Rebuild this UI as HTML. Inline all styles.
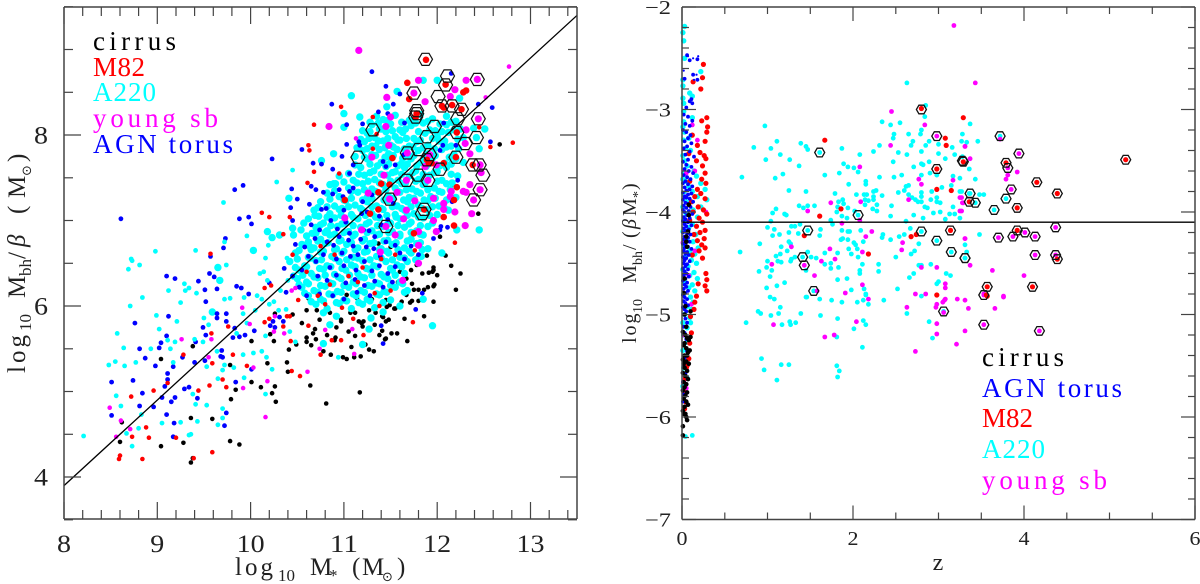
<!DOCTYPE html>
<html lang="en">
<head>
<meta charset="utf-8">
<title>Black hole mass versus stellar mass and redshift</title>
<style>
html,body{margin:0;padding:0;background:#fff;width:1200px;height:584px;overflow:hidden}
svg{display:block}
text{font-family:"Liberation Serif","DejaVu Serif",serif}
.sym{font-family:"DejaVu Sans","Liberation Serif",sans-serif}
</style>
</head>
<body>
<svg id="chart" xmlns="http://www.w3.org/2000/svg" width="1200" height="584" viewBox="0 0 1200 584">
<rect width="1200" height="584" fill="#fff"/>
<g id="left-marks"></g>
<g id="right-marks"></g>
<g id="axes"></g>

<g font-size="27">
<text x="93" y="50" fill="#000" textLength="83" lengthAdjust="spacing">cirrus</text>
<text x="93" y="76" fill="#f00" textLength="52" lengthAdjust="spacing">M82</text>
<text x="93" y="101" fill="#0ff" textLength="63" lengthAdjust="spacing">A220</text>
<text x="93" y="127" fill="#f0f" textLength="125" lengthAdjust="spacing">young sb</text>
<text x="93" y="153" fill="#00f" textLength="140" lengthAdjust="spacing">AGN torus</text>
</g>
<g font-size="27">
<text x="982" y="366" fill="#000" textLength="82" lengthAdjust="spacing">cirrus</text>
<text x="982" y="397" fill="#00f" textLength="140" lengthAdjust="spacing">AGN torus</text>
<text x="982" y="427" fill="#f00" textLength="51" lengthAdjust="spacing">M82</text>
<text x="982" y="458" fill="#0ff" textLength="63" lengthAdjust="spacing">A220</text>
<text x="982" y="489" fill="#f0f" textLength="125" lengthAdjust="spacing">young sb</text>
</g>

<text font-size="25" fill="#222" y="575"><tspan x="235" letter-spacing="3">log</tspan><tspan x="278" y="581" font-size="17">10</tspan><tspan x="310" y="575">M</tspan><tspan x="329" y="581" font-size="17">*</tspan><tspan x="352" y="575">(</tspan><tspan x="362" y="575">M</tspan><tspan class="sym" x="382" y="581" font-size="13">⊙</tspan><tspan x="397" y="575">)</tspan></text>

<text font-size="25" fill="#222" transform="translate(25,0) rotate(-90)" y="0"><tspan x="-373" letter-spacing="3">log</tspan><tspan x="-331" y="6" font-size="17">10</tspan><tspan x="-298" y="0">M</tspan><tspan x="-276" y="6" font-size="17">bh</tspan><tspan x="-259" y="0">/</tspan><tspan x="-247" y="0" font-style="italic">β</tspan><tspan x="-214" y="0">(</tspan><tspan x="-198" y="0">M</tspan><tspan class="sym" x="-176" y="6" font-size="13">⊙</tspan><tspan x="-162" y="0">)</tspan></text>

<text font-size="24" fill="#222" x="938" y="570" text-anchor="middle">z</text>

<text font-size="20" fill="#222" transform="translate(636,0) rotate(-90)" y="0"><tspan x="-343" letter-spacing="2">log</tspan><tspan x="-313" y="6" font-size="14">10</tspan><tspan x="-283" y="0">M</tspan><tspan x="-265" y="6" font-size="14">bh</tspan><tspan x="-250" y="0">/</tspan><tspan x="-238" y="0">(</tspan><tspan x="-229" y="0" font-style="italic">β</tspan><tspan x="-216" y="0">M</tspan><tspan x="-198" y="6" font-size="14">*</tspan><tspan x="-190" y="0">)</tspan></text>
</svg>

<script>
/* Left panel: [log10 M*, log10 Mbh/beta] */
const leftCirrus = [[8.62,4.64],[8.60,4.41],[9.04,5.38],[9.38,5.53],[9.36,4.69],[9.36,4.17],[9.04,4.36],[9.28,4.40],[9.38,4.22],[9.59,4.68],[9.78,4.42],[9.88,4.38],[9.79,4.91],[9.84,5.02],[9.78,5.31],[10.01,5.11],[10.11,5.05],[10.23,4.98],[10.27,4.88],[10.26,5.06],[10.18,5.33],[10.01,5.59],[10.25,5.59],[10.21,5.67],[10.26,5.91],[10.45,5.90],[10.49,5.55],[10.41,5.49],[10.39,5.34],[10.40,5.23],[12.15,6.47],[12.25,6.38],[12.20,6.19],[11.96,6.05],[11.86,5.88],[11.80,6.06],[11.73,6.06],[11.97,6.25],[11.96,6.23],[11.96,6.45],[11.96,6.42],[11.91,6.39],[11.95,6.40],[11.86,6.19],[11.80,6.19],[11.75,6.19],[11.73,6.26],[11.71,6.04],[11.68,5.59],[11.57,5.68],[11.51,5.68],[11.44,5.61],[11.45,5.62],[11.41,5.71],[11.48,5.84],[11.45,5.82],[11.41,5.88],[11.42,5.87],[11.34,5.92],[11.55,5.97],[11.49,6.01],[11.45,6.07],[11.20,5.76],[11.19,5.80],[11.16,5.82],[11.21,5.82],[11.07,5.92],[11.12,5.92],[10.97,5.84],[10.97,5.82],[11.12,5.65],[10.74,5.84],[10.67,5.68],[10.69,5.73],[10.70,5.61],[10.65,5.54],[10.60,5.58],[10.60,5.63],[10.78,5.47],[10.86,5.43],[10.90,5.60],[10.91,5.63],[10.99,5.40],[11.03,5.38],[11.11,5.40],[11.08,5.52],[11.18,5.41],[11.23,5.55],[11.27,5.49],[11.32,5.47],[10.64,5.07],[10.81,4.86],[11.17,4.99],[10.62,6.09],[10.71,5.95],[11.03,6.13],[11.14,6.09],[11.27,5.95],[11.46,5.99],[11.54,5.97],[11.67,6.13],[11.67,6.32],[12.67,7.89],[12.44,7.08],[12.16,7.42],[12.03,6.81],[12.09,6.59],[11.89,6.59],[11.79,6.57],[11.50,6.69],[11.37,6.73],[11.60,6.40],[11.58,6.28],[11.72,6.42],[11.84,6.38],[11.90,6.22],[11.62,6.05],[11.33,5.78],[11.38,5.66],[10.85,5.92],[10.92,5.75],[10.82,5.66],[10.55,5.80],[10.60,5.95],[11.05,5.70],[11.30,6.08],[11.78,6.48],[12.0,6.36],[11.65,5.85],[11.55,6.22]];
const leftAgnTorus = [[8.51,5.11],[8.51,4.72],[8.74,5.13],[8.76,5.80],[8.81,5.50],[8.87,5.39],[8.84,4.98],[8.81,4.83],[8.96,4.82],[8.98,5.30],[9.02,5.51],[9.04,5.57],[9.10,5.65],[9.12,5.88],[9.10,6.35],[9.19,6.32],[9.08,5.06],[9.11,5.14],[9.11,5.21],[9.17,5.29],[9.27,5.40],[9.05,4.93],[9.19,4.93],[9.15,4.88],[9.10,4.73],[9.18,4.63],[9.17,4.47],[9.29,5.03],[9.34,5.05],[9.43,4.92],[9.40,5.34],[9.41,5.58],[9.52,5.66],[9.49,5.75],[9.52,6.05],[9.44,6.29],[9.51,6.19],[9.56,6.38],[9.64,6.20],[9.61,6.34],[9.64,5.91],[9.64,5.86],[9.74,5.91],[9.74,5.82],[9.85,6.23],[9.90,6.21],[9.98,6.14],[9.83,5.74],[9.88,5.64],[9.81,5.63],[9.94,5.66],[10.04,5.71],[9.69,5.48],[9.68,5.41],[9.70,5.40],[9.51,5.36],[9.84,5.11],[9.74,4.75],[9.72,4.60],[10.01,5.26],[10.20,6.27],[10.36,6.44],[10.38,6.16],[10.21,5.77],[10.24,5.82],[10.26,5.75],[10.35,5.82],[10.31,5.87],[10.23,7.72],[9.92,7.41],[9.83,7.36],[8.61,7.02],[10.44,7.37],[10.50,7.25],[10.43,7.15],[9.88,7.02],[9.98,7.04],[10.01,6.96],[10.45,7.0],[9.73,6.79],[9.71,6.68],[9.57,6.58],[10.48,6.72],[11.30,8.74],[11.45,8.57],[10.87,8.36],[11.53,8.36],[11.60,8.48],[11.37,8.27],[11.47,8.25],[11.03,8.12],[11.20,8.13],[12.59,8.32],[12.44,8.36],[12.57,7.92],[12.15,8.72],[11.65,8.14],[12.07,8.14],[11.03,7.89],[11.16,7.92],[11.17,7.88],[10.98,7.75],[10.55,7.83],[10.67,7.67],[10.76,7.66],[10.88,7.60],[11.06,7.55],[11.10,7.65],[10.65,7.40],[10.70,7.36],[10.78,7.33],[10.88,7.31],[10.95,7.36],[10.63,7.19],[10.76,7.13],[10.81,7.14],[11.10,7.38],[11.06,7.34],[10.99,7.28],[11.42,7.69],[11.45,7.63],[11.55,7.65],[11.64,7.77],[10.58,6.69],[10.69,6.79],[10.74,6.89],[10.89,6.71],[10.95,6.81],[11.06,6.85],[10.98,6.62],[11.05,6.77],[11.21,6.89],[11.24,6.69],[11.33,6.81],[11.19,7.08],[12.04,6.93],[12.11,6.92],[11.96,6.79],[12.03,6.89],[11.55,6.71],[11.60,6.62],[11.32,6.67],[11.39,6.58],[11.47,7.01],[11.53,7.20],[12.06,7.88],[12.03,7.82],[12.20,7.88],[12.22,7.47],[12.16,7.22],[11.77,5.96],[11.40,5.77],[11.42,5.56],[11.84,6.15],[10.62,6.58],[10.70,6.52],[10.78,6.60],[10.85,6.45],[10.92,6.55],[11.0,6.47],[11.07,6.58],[11.13,6.42],[11.22,6.52],[11.3,6.41],[11.38,6.47],[11.47,6.38],[11.55,6.46],[10.72,6.35],[10.82,6.30],[10.92,6.36],[11.02,6.27],[11.12,6.31],[11.22,6.24],[11.33,6.29],[11.42,6.22],[11.52,6.28],[10.52,6.22],[10.6,6.12],[10.74,6.14],[10.88,6.12],[11.0,6.08],[11.14,6.16],[11.28,6.12],[10.82,6.75],[10.93,6.9],[11.02,6.98],[11.1,6.7],[11.18,6.78],[11.27,6.88],[11.4,6.95],[11.45,6.75],[11.65,6.55],[11.72,6.7],[11.8,6.6],[11.25,7.1],[11.38,7.05],[11.2,7.22],[11.3,7.3],[11.15,6.6],[10.55,6.42],[10.45,6.35],[10.65,6.95],[10.86,7.0],[11.0,7.12]];
const leftA220Small = [[8.21,4.48],[8.48,5.31],[8.55,5.35],[8.57,5.68],[8.64,5.51],[8.65,5.30],[8.56,4.95],[8.61,4.83],[8.67,4.51],[8.73,4.36],[8.80,4.57],[8.83,4.73],[8.77,5.34],[8.71,6.0],[8.84,6.10],[8.69,6.43],[8.81,6.48],[8.73,6.53],[8.93,5.50],[8.99,5.89],[9.02,5.73],[9.11,5.60],[9.14,5.50],[9.19,5.58],[9.17,5.34],[9.05,4.63],[9.25,4.64],[9.34,4.49],[9.36,4.50],[9.43,4.65],[9.38,4.97],[9.40,5.61],[9.49,5.58],[9.41,4.85],[9.53,4.84],[9.53,5.29],[9.50,5.86],[9.55,5.78],[9.25,6.04],[9.21,5.82],[9.12,6.18],[9.29,6.26],[9.34,6.21],[9.30,6.18],[9.42,6.15],[9.74,6.48],[9.72,6.08],[9.78,6.09],[9.93,6.10],[9.92,5.91],[9.96,5.80],[9.85,5.68],[9.64,5.47],[9.92,5.43],[10.12,5.47],[10.03,5.45],[10.17,5.40],[10.23,5.26],[9.72,5.31],[9.82,5.28],[9.70,5.25],[9.65,5.15],[9.93,5.16],[10.16,4.97],[9.70,4.80],[9.70,4.69],[9.65,4.61],[10.45,7.59],[10.28,7.45],[9.71,7.21],[9.96,6.82],[10.19,6.71],[9.72,6.75],[9.41,6.65],[8.98,6.64],[8.72,6.55],[10.16,6.56],[10.39,6.56],[10.10,6.38],[10.14,6.40],[10.18,6.30],[10.07,6.12],[10.12,6.08],[10.2,6.02],[10.25,6.05],[10.05,5.95],[10.16,5.65],[10.3,5.95],[10.38,5.96],[10.4,6.3],[10.32,6.18],[10.42,5.7],[10.48,5.58],[10.94,5.40]];
const leftA220Large = [[9.59,5.93],[9.67,6.30],[9.65,6.45],[10.41,7.26],[10.18,6.87],[10.23,6.80],[10.31,6.83],[10.45,6.91],[10.46,6.83],[10.03,6.65],[11.95,5.77],[11.20,5.55],[11.27,5.73],[11.29,5.86],[10.85,5.78],[10.78,5.56],[11.42,5.93],[11.60,6.0],[11.65,6.16],[11.85,6.08],[11.85,8.64],[12.0,8.64],[11.57,8.51],[11.08,8.46],[11.46,8.33],[11.0,8.25],[11.17,8.21],[11.0,8.09],[12.24,8.43],[12.39,8.08],[12.51,8.07],[12.42,7.97],[12.45,7.84],[12.45,6.89],[12.21,6.89],[12.05,6.62],[10.89,7.78],[10.76,7.7],[10.89,7.43],[10.91,7.43],[10.69,7.06],[10.57,6.97],[10.66,6.85],[10.64,6.69],[10.54,6.89],[10.58,6.71],
[11.35,8.22],[11.42,8.18],[11.55,8.23],[11.7,8.17],[11.82,8.24],[11.95,8.19],[12.1,8.22],[12.2,8.16],
[11.3,8.12],[11.38,8.07],[11.5,8.13],[11.6,8.06],[11.72,8.11],[11.85,8.14],[11.98,8.05],[12.1,8.12],[12.25,8.07],
[11.25,8.02],[11.33,7.97],[11.45,8.04],[11.55,7.98],[11.63,8.03],[11.75,7.96],[11.87,8.02],[12.0,7.98],[12.12,8.03],[12.28,7.97],
[11.22,7.92],[11.3,7.87],[11.42,7.93],[11.5,7.88],[11.6,7.94],[11.7,7.87],[11.78,7.92],[11.9,7.88],[12.02,7.93],[12.15,7.87],
[11.2,7.82],[11.3,7.77],[11.38,7.83],[11.48,7.78],[11.57,7.83],[11.68,7.76],[11.8,7.82],[11.9,7.78],[12.05,7.83],[12.18,7.77],
[11.25,7.72],[11.4,7.68],[11.5,7.73],[11.62,7.67],[11.72,7.72],[11.83,7.68],[11.95,7.73],[12.08,7.67],[12.2,7.72],[12.28,7.68],
[11.18,7.62],[11.32,7.58],[11.45,7.63],[11.55,7.57],[11.65,7.62],[11.77,7.58],[11.88,7.63],[12.0,7.57],[12.1,7.62],
[10.95,7.52],[11.1,7.47],[11.22,7.53],[11.33,7.48],[11.47,7.53],[11.58,7.47],[11.7,7.52],[11.8,7.48],[11.92,7.53],[12.05,7.47],[12.22,7.52],
[10.85,7.42],[11.05,7.38],[11.2,7.43],[11.3,7.37],[11.42,7.42],[11.55,7.38],[11.62,7.43],[11.73,7.37],[11.85,7.42],[11.97,7.38],[12.1,7.43],
[10.82,7.32],[10.95,7.28],[11.15,7.33],[11.25,7.27],[11.38,7.32],[11.48,7.28],[11.6,7.33],[11.7,7.27],[11.82,7.32],[11.93,7.28],[12.05,7.33],[12.2,7.27],
[10.75,7.22],[10.9,7.17],[11.02,7.23],[11.12,7.18],[11.25,7.22],[11.35,7.17],[11.47,7.23],[11.57,7.17],[11.68,7.22],[11.8,7.18],[11.9,7.23],[12.02,7.17],
[10.68,7.12],[10.85,7.08],[10.95,7.13],[11.08,7.07],[11.2,7.12],[11.3,7.08],[11.42,7.13],[11.55,7.07],[11.65,7.12],[11.75,7.08],[11.88,7.13],[12.0,7.07],[12.12,7.12],
[10.62,7.02],[10.78,6.97],[10.9,7.03],[11.02,6.97],[11.15,7.02],[11.27,6.98],[11.38,7.03],[11.5,6.97],[11.6,7.02],[11.72,6.98],[11.85,7.03],[11.95,6.97],
[10.7,6.92],[10.82,6.88],[10.93,6.93],[11.05,6.87],[11.18,6.92],[11.3,6.88],[11.42,6.93],[11.52,6.87],[11.65,6.92],[11.78,6.88],[11.9,6.93],
[10.6,6.82],[10.75,6.78],[10.85,6.83],[10.97,6.77],[11.1,6.82],[11.22,6.78],[11.35,6.83],[11.47,6.77],[11.6,6.82],[11.72,6.78],[11.85,6.83],
[10.55,6.72],[10.68,6.68],[10.8,6.73],[10.92,6.67],[11.03,6.72],[11.15,6.68],[11.28,6.73],[11.4,6.67],[11.52,6.72],[11.65,6.68],[11.78,6.73],[11.9,6.67],
[10.48,6.62],[10.62,6.57],[10.75,6.63],[10.87,6.58],[10.98,6.62],[11.1,6.57],[11.22,6.63],[11.35,6.58],[11.48,6.62],[11.6,6.57],[11.72,6.62],[11.83,6.58],
[10.42,6.52],[10.58,6.47],[10.7,6.53],[10.82,6.47],[10.95,6.52],[11.08,6.48],[11.2,6.53],[11.32,6.47],[11.45,6.52],[11.57,6.48],[11.68,6.52],
[10.52,6.42],[10.65,6.38],[10.78,6.43],[10.9,6.37],[11.02,6.42],[11.15,6.38],[11.27,6.43],[11.4,6.37],[11.52,6.42],[11.65,6.38],
[10.5,6.32],[10.6,6.28],[10.72,6.33],[10.85,6.27],[10.97,6.32],[11.1,6.28],[11.22,6.33],[11.35,6.27],[11.47,6.32],[11.6,6.28],
[10.55,6.22],[10.68,6.18],[10.8,6.23],[10.93,6.17],[11.05,6.22],[11.18,6.18],[11.3,6.23],[11.43,6.17],[11.55,6.22],[11.68,6.18],
[10.62,6.12],[10.75,6.08],[10.88,6.13],[11.0,6.07],[11.13,6.12],[11.25,6.08],[11.38,6.13],[11.5,6.07],
[10.7,6.02],[10.82,5.97],[10.95,6.03],[11.08,5.97],[11.2,6.02],[11.33,5.98],[10.78,5.92],[10.92,5.88]];
const leftA220Fill = [[11.28,8.15],[11.37,8.14],[11.47,8.17],[11.62,8.15],[11.77,8.14],[11.9,8.16],[12.03,8.13],[12.15,8.15],
[11.2,8.05],[11.28,8.04],[11.4,8.07],[11.52,8.05],[11.66,8.07],[11.8,8.04],[11.92,8.06],[12.05,8.04],[12.18,8.06],
[11.18,7.95],[11.27,7.96],[11.37,7.93],[11.47,7.96],[11.58,7.94],[11.67,7.96],[11.82,7.94],[11.95,7.96],[12.08,7.93],[12.22,7.95],
[11.14,7.85],[11.25,7.84],[11.34,7.87],[11.44,7.85],[11.53,7.86],[11.65,7.84],[11.74,7.86],[11.85,7.85],[11.97,7.84],[12.1,7.86],[12.23,7.84],
[11.12,7.75],[11.22,7.74],[11.34,7.76],[11.44,7.74],[11.53,7.76],[11.63,7.73],[11.75,7.76],[11.86,7.74],[11.98,7.76],[12.13,7.74],
[11.12,7.65],[11.28,7.66],[11.36,7.64],[11.48,7.66],[11.58,7.64],[11.68,7.66],[11.78,7.64],[11.9,7.66],[12.03,7.64],[12.15,7.66],
[11.05,7.55],[11.16,7.54],[11.28,7.56],[11.4,7.54],[11.52,7.56],[11.62,7.54],[11.74,7.56],[11.85,7.54],[11.97,7.56],[12.15,7.54],
[11.0,7.45],[11.14,7.44],[11.26,7.46],[11.38,7.44],[11.5,7.46],[11.66,7.44],[11.77,7.46],[11.87,7.44],[12.0,7.46],[12.16,7.44],
[10.9,7.35],[11.08,7.34],[11.22,7.36],[11.34,7.34],[11.45,7.36],[11.58,7.34],[11.67,7.36],[11.78,7.34],[11.9,7.36],[12.02,7.34],[12.14,7.36],
[10.85,7.25],[11.0,7.24],[11.08,7.26],[11.2,7.24],[11.3,7.26],[11.43,7.24],[11.53,7.26],[11.64,7.24],[11.75,7.26],[11.86,7.24],[11.98,7.26],[12.1,7.24],
[10.72,7.15],[10.82,7.16],[10.98,7.14],[11.05,7.16],[11.18,7.14],[11.3,7.16],[11.4,7.14],[11.52,7.16],[11.62,7.14],[11.72,7.16],[11.84,7.14],[11.95,7.16],[12.08,7.14],
[10.73,7.05],[10.82,7.04],[10.97,7.06],[11.1,7.04],[11.23,7.06],[11.34,7.04],[11.46,7.06],[11.56,7.04],[11.68,7.06],[11.8,7.04],[11.92,7.06],
[10.75,6.95],[10.86,6.94],[10.98,6.96],[11.1,6.94],[11.24,6.96],[11.36,6.94],[11.47,6.96],[11.58,6.94],[11.7,6.96],[11.82,6.94],
[10.7,6.85],[10.8,6.86],[10.9,6.84],[11.0,6.86],[11.12,6.84],[11.25,6.86],[11.38,6.84],[11.48,6.86],[11.6,6.84],[11.72,6.86],[11.82,6.84],
[10.62,6.75],[10.72,6.76],[10.83,6.74],[10.95,6.76],[11.08,6.74],[11.2,6.76],[11.32,6.74],[11.43,6.76],[11.56,6.74],[11.68,6.76],[11.82,6.74],
[10.52,6.65],[10.65,6.66],[10.78,6.64],[10.9,6.66],[11.0,6.64],[11.12,6.66],[11.25,6.64],[11.38,6.66],[11.46,6.64],[11.58,6.66],[11.7,6.64],[11.84,6.66],
[10.5,6.55],[10.64,6.56],[10.76,6.54],[10.9,6.56],[11.03,6.54],[11.15,6.56],[11.28,6.54],[11.4,6.56],[11.52,6.54],[11.65,6.56],[11.77,6.54],
[10.48,6.45],[10.6,6.46],[10.74,6.44],[10.86,6.46],[10.98,6.44],[11.12,6.46],[11.24,6.44],[11.36,6.46],[11.5,6.44],[11.62,6.46],
[10.46,6.35],[10.56,6.36],[10.68,6.34],[10.8,6.36],[10.94,6.34],[11.06,6.36],[11.18,6.34],[11.3,6.36],[11.43,6.34],[11.55,6.36],
[10.52,6.25],[10.62,6.26],[10.75,6.24],[10.88,6.26],[11.0,6.24],[11.13,6.26],[11.26,6.24],[11.38,6.26],[11.5,6.24],[11.63,6.26],
[10.58,6.15],[10.72,6.16],[10.84,6.14],[10.97,6.16],[11.1,6.14],[11.22,6.16],[11.35,6.14],[11.46,6.16],
[10.65,6.05],[10.78,6.06],[10.92,6.04],[11.03,6.06],[11.16,6.04],[11.28,6.06],[11.42,6.04]];
const leftM82Small = [[8.59,4.21],[8.60,4.25],[8.84,4.21],[8.73,4.47],[8.88,4.58],[8.91,4.46],[8.72,4.94],[8.96,5.01],[9.11,5.10],[9.28,5.43],[9.44,5.01],[9.56,5.07],[9.59,5.33],[9.70,5.14],[9.74,5.05],[9.59,4.29],[9.58,5.68],[9.76,5.76],[9.81,5.43],[9.96,5.30],[9.20,4.46],[9.39,4.22],[10.15,6.21],[10.22,6.24],[10.15,5.81],[10.20,5.85],[10.35,5.76],[10.39,5.88],[10.42,5.88],[10.43,5.59],[10.44,5.24],[10.53,5.18],[10.51,6.07],[10.12,7.09],[10.20,7.04],[10.42,7.04],[10.35,6.84],[9.57,6.61],[10.45,6.60],[11.74,5.81],[10.97,5.60],[10.87,5.60],[10.62,5.77],[10.75,5.43],[11.21,5.66],[10.97,8.33],[10.68,8.12],[12.45,8.09],[12.81,7.91],[12.57,7.86],[10.62,7.88],[10.63,7.82],[11.35,8.01],[10.68,7.57],[10.95,7.55],[10.61,7.44],[12.19,6.74],[11.76,6.65],[11.31,8.21],[11.31,7.84],[10.72,6.12],[10.85,6.25],[10.98,5.98],[11.15,6.28],[11.33,6.15],[11.5,6.18],[10.6,6.4],[10.75,6.7],[10.9,6.6],[11.05,6.35],[11.2,6.45],[11.4,6.55],[11.55,6.6],[10.8,6.02],[11.1,5.85],[11.38,6.0]];
const leftM82Large = [[11.88,8.88],[11.68,8.61],[12.09,8.59],[12.28,8.50],[12.31,8.52],[11.70,8.42],[12.05,8.34],[12.16,8.35],[12.07,8.32],[12.26,8.30],[11.78,8.25],[11.77,8.21],[12.21,8.03],[11.52,7.73],[12.07,7.67],[12.20,7.74],[12.38,7.65],[11.89,7.71],[11.91,7.67],[12.21,7.39],[11.40,7.43],[11.37,7.33],[12.18,7.24],[11.86,7.13],[11.37,7.13],[11.75,6.85],[12.18,6.94],[12.07,7.04],[11.49,7.42],[11.01,7.24],[11.28,7.08],[11.94,7.67]];
const leftYoungSmall = [[8.49,4.81],[8.61,4.66],[8.71,4.56],[8.56,4.47],[9.26,5.61],[9.91,5.98],[9.58,5.61],[9.55,5.40],[9.99,5.79],[10.03,5.28],[9.92,5.04],[10.18,5.12],[10.16,4.70],[10.26,5.88],[10.25,5.70],[10.36,5.68],[10.44,6.18],[10.48,6.21],[12.77,8.80],[12.52,8.44],[11.13,7.96],[10.61,5.23],[11.09,5.73],[10.74,5.50],[11.11,5.44],[10.80,5.72]];
const leftYoungLarge = [[11.16,8.99],[11.80,8.64],[12.31,8.64],[12.43,8.65],[11.75,8.49],[11.46,8.44],[11.87,8.39],[12.19,8.53],[12.14,8.45],[11.50,8.21],[12.44,8.19],[11.45,8.10],[10.84,8.10],[12.31,8.06],[11.48,7.88],[11.30,7.74],[11.68,7.79],[11.92,7.77],[12.30,7.90],[12.35,7.78],[12.46,7.65],[12.47,7.56],[11.90,7.47],[11.67,7.47],[11.43,7.53],[11.99,7.65],[11.87,7.63],[12.46,7.36],[12.35,7.42],[12.28,7.34],[12.31,7.33],[12.39,7.24],[12.15,7.34],[12.14,7.28],[12.07,7.20],[12.07,7.13],[12.19,7.10],[12.37,7.08],[12.30,6.94],[11.49,7.25],[11.26,7.32],[11.57,7.33],[11.76,7.23],[11.96,7.26],[11.64,7.02],[11.67,7.12],[11.45,6.93],[11.80,6.87],[11.99,6.87],[11.96,7.0],[11.55,6.83],[11.39,6.63],[11.80,6.71],[11.01,7.03],[11.19,6.89],[11.63,6.30],[11.8,6.5]];
const leftHexagons = [[11.875,8.885],[12.11,8.69],[12.09,8.585],[12.43,8.65],[11.75,8.49],[12.01,8.45],[12.05,8.34],[12.16,8.34],[12.26,8.30],[11.78,8.285],[11.77,8.21],[11.78,8.25],[12.22,8.19],[12.44,8.19],[11.31,8.06],[11.97,8.10],[11.89,7.98],[12.21,8.03],[12.42,7.97],[12.30,7.90],[11.68,7.79],[11.80,7.83],[11.92,7.77],[11.15,7.74],[12.20,7.74],[12.38,7.65],[12.45,7.65],[12.49,7.53],[12.03,7.60],[11.80,7.53],[11.90,7.47],[11.67,7.47],[11.49,7.25],[12.46,7.36],[12.39,7.24],[11.86,7.13],[11.84,7.08],[11.45,6.93],[11.89,7.71]];
const leftFitLine = [[8,3.9],[13.5,9.4]];
const leftXTickLabels = ["8","9","10","11","12","13"];
const leftYTickLabels = ["4","6","8"];

/* Right panel: [z, log10 Mbh/(beta M*)] */
const rightA220 = [[2.63,-2.74],[.97,-3.16],[.84,-3.37],[1.11,-3.31],[1.04,-3.38],[1.39,-3.33],[1.45,-3.36],[1.47,-3.39],[.98,-3.49],[1.15,-3.44],[1.26,-3.49],[1.37,-3.55],[1.18,-3.63],[1.09,-3.67],[.70,-3.66],[1.25,-3.79],[1.45,-3.80],[1.67,-3.64],[1.84,-3.62],[1.89,-3.53],[1.94,-3.56],[2.01,-3.57],[2.06,-3.61],[2.08,-3.44],[1.87,-3.38],[2.24,-3.41],[2.31,-3.35],[2.34,-3.12],[2.44,-3.15],[2.55,-3.13],[2.48,-3.24],[2.47,-3.28],[2.65,-3.24],[2.80,-3.20],[2.79,-3.24],[2.84,-3.07],[2.85,-2.96],[2.89,-3.31],[3.0,-3.34],[2.70,-3.31],[2.68,-3.35],[2.63,-3.44],[2.53,-3.42],[2.85,-3.35],[2.80,-3.41],[3.0,-3.43],[3.16,-3.37],[3.27,-3.31],[3.19,-3.44],[3.08,-3.48],[2.71,-3.56],[2.80,-3.53],[2.82,-3.54],[2.89,-3.51],[2.47,-3.51],[2.57,-3.64],[2.48,-3.66],[2.31,-3.66],[1.95,-3.73],[2.15,-3.70],[2.15,-3.73],[2.27,-3.79],[2.24,-3.80],[1.79,-3.82],[2.04,-3.83],[2.13,-3.83],[2.16,-3.83],[2.34,-3.84],[2.24,-3.85],[2.14,-3.88],[2.18,-3.89],[2.14,-3.93],[2.24,-3.88],[2.28,-3.93],[1.88,-3.88],[1.83,-3.90],[1.89,-3.92],[1.94,-3.96],[1.82,-3.95],[1.81,-4.0],[1.87,-4.04],[1.93,-4.06],[2.02,-3.99],[2.23,-3.97],[2.28,-3.99],[1.37,-3.94],[1.42,-3.96],[1.47,-3.94],[1.55,-3.94],[1.10,-3.97],[1.06,-4.01],[1.20,-4.02],[1.22,-4.03],[1.04,-4.09],[1.0,-4.15],[1.08,-4.17],[1.06,-4.23],[1.14,-4.22],[1.28,-4.14],[1.32,-4.14],[1.38,-4.12],[1.25,-4.20],[1.36,-4.21],[.91,-4.31],[1.25,-4.29],[1.27,-4.31],[1.16,-4.34],[1.23,-4.38],[1.15,-4.41],[1.10,-4.43],[.68,-4.39],[1.0,-4.48],[.99,-4.54],[1.05,-4.57],[.90,-4.58],[1.03,-4.63],[1.12,-4.48],[1.16,-4.49],[1.28,-4.46],[1.27,-4.48],[1.32,-4.44],[1.47,-4.39],[1.51,-4.44],[1.57,-4.45],[1.67,-4.40],[1.82,-4.40],[1.74,-4.50],[1.74,-4.55],[1.67,-4.51],[1.83,-4.54],[1.98,-4.41],[2.01,-4.30],[2.03,-4.32],[2.12,-4.29],[1.95,-4.36],[2.05,-4.36],[2.06,-4.44],[2.11,-4.51],[1.86,-4.27],[1.88,-4.26],[1.94,-4.27],[1.94,-4.19],[1.96,-4.19],[1.87,-4.18],[1.76,-4.12],[1.74,-4.08],[1.62,-4.17],[1.61,-4.23],[2.09,-4.18],[2.35,-4.22],[2.34,-4.25],[2.44,-4.27],[2.54,-4.24],[2.60,-4.22],[2.44,-4.04],[2.62,-4.09],[2.67,-4.16],[2.77,-4.31],[2.71,-4.03],[2.82,-4.06],[2.94,-4.01],[3.02,-4.0],[3.08,-4.07],[3.13,-4.02],[3.19,-4.02],[2.45,-3.94],[2.53,-3.81],[2.60,-3.79],[2.62,-3.75],[2.65,-3.74],[2.80,-3.81],[2.80,-3.85],[2.80,-3.90],[2.65,-3.83],[2.69,-3.86],[2.73,-3.88],[2.76,-3.90],[2.84,-3.95],[2.87,-3.96],[2.91,-3.88],[2.98,-3.86],[2.98,-3.90],[3.02,-3.91],[3.04,-3.76],[2.92,-3.80],[3.17,-3.65],[3.15,-3.74],[3.17,-3.95],[3.27,-3.80],[2.90,-3.62],[2.98,-3.64],[2.80,-3.64],[2.50,-4.44],[2.68,-4.41],[2.72,-4.38],[2.80,-4.52],[2.77,-4.52],[2.91,-4.51],[3.0,-4.68],[2.98,-4.70],[3.09,-4.60],[3.14,-4.62],[2.66,-4.64],[2.71,-4.60],[2.52,-4.75],[2.30,-4.51],[2.30,-4.58],[2.08,-4.57],[2.08,-4.60],[1.93,-4.65],[1.82,-4.66],[2.13,-4.75],[2.15,-4.81],[1.98,-4.76],[1.45,-4.83],[1.03,-4.83],[.99,-4.74],[1.11,-4.72],[1.20,-4.69],[1.45,-4.57],[1.61,-4.85],[1.08,-4.85],[1.15,-4.93],[.89,-4.97],[.92,-4.99],[1.04,-5.01],[1.13,-4.99],[1.39,-4.99],[1.62,-5.01],[1.82,-5.04],[1.26,-5.07],[1.33,-5.08],[1.17,-5.10],[1.27,-5.10],[.75,-5.08],[2.12,-5.06],[2.15,-5.10],[2.01,-5.14],[1.81,-5.22],[2.11,-5.32],[.93,-5.43],[.96,-5.54],[1.16,-5.49],[1.25,-5.49],[1.81,-5.50],[1.84,-5.55],[1.82,-5.61],[1.11,-5.64],[1.75,-4.86],[1.87,-4.88],[2.05,-4.88],[2.12,-4.86],[2.15,-4.80],[2.18,-4.90],[2.36,-4.86],[2.63,-4.99],[2.80,-4.82],[2.89,-5.07],[2.93,-5.23],[3.06,-4.97],[1.46,-4.83],[1.61,-3.42],[2.06,-4.03],[1.47,-4.18],[2.80,-4.19],[2.98,-4.28],[3.15,-4.39],[3.31,-4.45],[1.41,-4.44],[1.54,-4.77],[3.36,-3.82],[3.72,-3.26],[3.79,-3.87],[3.37,-3.82],[3.43,-3.91],[3.65,-3.98],[3.31,-4.45],[3.28,-3.24],[3.37,-3.14],[3.46,-3.31],[3.33,-3.32],[3.36,-3.58],[3.43,-3.68],[3.25,-3.67],[3.48,-3.83],[3.53,-3.83],[3.25,-3.80],[3.25,-4.06],[3.28,-3.46],[3.48,-4.22],[3.31,-4.32],[3.33,-4.39],[.04,-6.19],[.12,-6.18]];
const rightYoungSb = [[2.45,-3.02],[2.84,-3.15],[2.44,-3.35],[2.08,-3.56],[2.77,-3.68],[2.80,-3.73],[2.65,-3.88],[3.17,-3.69],[3.27,-3.86],[3.31,-3.36],[1.74,-3.91],[2.09,-3.90],[1.47,-3.99],[3.27,-3.99],[3.29,-3.91],[1.87,-4.11],[2.08,-4.08],[2.22,-4.19],[2.15,-4.24],[2.58,-4.30],[3.31,-4.26],[2.57,-4.37],[1.28,-4.34],[1.73,-4.36],[2.11,-4.39],[1.79,-4.46],[1.63,-4.48],[1.05,-4.51],[1.55,-4.62],[1.43,-4.52],[2.80,-4.54],[2.98,-4.54],[3.08,-4.70],[3.08,-4.74],[2.11,-4.71],[1.91,-4.79],[2.73,-4.80],[2.85,-4.80],[1.58,-4.77],[3.22,-4.85],[3.08,-4.85],[2.18,-4.85],[3.43,-2.74],[3.18,-2.18],[3.31,-3.36],[3.37,-3.48],[3.72,-3.29],[3.81,-3.64],[3.79,-3.68],[3.92,-3.61],[3.94,-3.43],[3.81,-3.57],[3.85,-3.78],[3.25,-3.86],[3.28,-3.91],[3.25,-3.99],[3.31,-4.26],[3.37,-4.52],[3.63,-4.57],[4.0,-4.62],[3.76,-4.83],[3.70,-4.25],[3.87,-4.24],[4.01,-4.20],[4.13,-4.24],[4.37,-4.15],[4.13,-4.42],[4.37,-4.42],[3.53,-4.81],[2.98,-3.26],[3.31,-4.86],[3.35,-4.94],[2.63,-4.93],[2.97,-4.93],[2.98,-4.90],[3.05,-4.88],[3.07,-4.86],[2.98,-5.09],[2.98,-5.19],[3.31,-5.16],[3.21,-5.29],[2.73,-5.36],[2.04,-5.07],[1.07,-5.10],[1.67,-5.22],[1.78,-5.20],[3.66,-4.94],[3.76,-4.82],[3.53,-4.80],[3.53,-5.10],[4.18,-5.16],[3.06,-4.98],
[.12,-3.15],[.18,-3.30],[.05,-3.62],[.04,-3.85],[.28,-4.0],[.01,-4.3],[.15,-4.38],[.08,-4.62],[.11,-4.9],[.02,-5.2],[.05,-5.72],[.02,-5.65],[.15,-3.6]];
const rightM82 = [[1.67,-3.30],[3.29,-3.08],[3.08,-3.28],[3.09,-3.35],[2.80,-2.99],[2.98,-3.58],[3.29,-3.51],[2.98,-3.78],[3.15,-3.79],[1.86,-3.97],[1.61,-4.04],[1.43,-4.23],[2.74,-4.22],[2.68,-4.24],[3.14,-4.18],[2.18,-4.41],[2.98,-4.81],[3.79,-3.52],[4.15,-3.71],[4.39,-3.82],[5.19,-3.49],[3.92,-3.96],[3.92,-4.18],[3.36,-3.90],[4.39,-4.46],[3.57,-4.73],[4.10,-4.73],[3.57,-4.82],[3.56,-4.81],
[.25,-2.56],[.24,-2.69],[.13,-2.73],[.22,-2.80],[.29,-3.08],[.23,-3.11],[.30,-3.17],[.29,-3.22],[.27,-3.31],[.18,-3.35],[.21,-3.42],[.26,-3.45],[.28,-3.48],[.24,-3.55],[.27,-3.62],[.17,-3.5],[.23,-3.68],[.28,-3.72],[.18,-3.78],[.22,-3.82],[.27,-3.87],[.15,-3.85],[.11,-3.9],[.19,-3.95],[.25,-3.98],[.13,-4.0],[.29,-4.02],[.2,-4.06],[.09,-4.08],[.24,-4.1],[.17,-4.14],[.27,-4.18],[.21,-4.2],[.14,-4.22],[.26,-4.26],[.18,-4.28],[.23,-4.32],[.27,-4.35],[.2,-4.38],[.12,-4.42],[.24,-4.45],[.28,-4.6],[.29,-4.66],[.27,-4.72],[.19,-4.7],[.29,-4.77],[.17,-4.82],[.15,-4.88],[.14,-4.95],[.1,-5.02],[.11,-5.18],[.09,-5.28],[.07,-5.36],[.08,-5.43],[.05,-5.52],[.04,-5.62],[.02,-5.75],[.04,-5.85],[.03,-5.92],[.06,-5.5],[.12,-3.25],[.08,-3.43],[.09,-3.7]];
const rightAgnTorus = [[.06,-2.47],[.18,-2.51],[.09,-2.52],[.03,-2.7],[.18,-2.71],[.13,-2.66],[.12,-2.94],[.09,-2.92],[.11,-2.9],[.05,-2.98],[.02,-3.05],[.07,-3.07],[.12,-3.11],[.04,-3.14],[.09,-3.16],[.01,-3.2],[.05,-3.22],[.1,-3.25],[.07,-3.28],[.03,-3.31],[.11,-3.33],[.06,-3.36],[.02,-3.38],[.09,-3.41],[.04,-3.44],[.14,-3.46],[.07,-3.49],[.01,-3.51],[.05,-3.54],[.11,-3.56],[.03,-3.58],[.08,-3.6],[.13,-3.62],[.02,-3.64],[.06,-3.66],[.1,-3.68],[.04,-3.7],[.01,-3.72],[.07,-3.73],[.12,-3.75],[.03,-3.76],[.09,-3.78],[.05,-3.79],[.01,-3.81],[.11,-3.82],[.07,-3.83],[.03,-3.85],[.05,-3.86],[.09,-3.87],[.01,-3.88],[.13,-3.9],[.04,-3.91],[.07,-3.92],[.02,-3.94],[.1,-3.95],[.05,-3.96],[.01,-3.98],[.08,-3.99],[.03,-4.0],[.12,-4.02],[.06,-4.03],[.02,-4.05],[.09,-4.06],[.04,-4.07],[.01,-4.09],[.07,-4.1],[.03,-4.12],[.11,-4.13],[.05,-4.14],[.02,-4.16],[.08,-4.17],[.04,-4.18],[.01,-4.2],[.06,-4.21],[.1,-4.22],[.03,-4.24],[.07,-4.25],[.02,-4.27],[.05,-4.28],[.09,-4.29],[.01,-4.31],[.04,-4.32],[.07,-4.34],[.03,-4.35],[.11,-4.36],[.02,-4.38],[.06,-4.39],[.04,-4.41],[.08,-4.42],[.01,-4.44],[.05,-4.45],[.03,-4.47],[.09,-4.48],[.02,-4.5],[.06,-4.51],[.04,-4.53],[.01,-4.55],[.07,-4.56],[.03,-4.58],[.05,-4.6],[.02,-4.62],[.08,-4.63],[.04,-4.65],[.01,-4.67],[.06,-4.69],[.03,-4.71],[.05,-4.73],[.02,-4.75],[.07,-4.77],[.04,-4.79],[.01,-4.81],[.03,-4.83],[.06,-4.85],[.02,-4.87],[.04,-4.89],[.07,-4.91],[.01,-4.93],[.03,-4.95],[.05,-4.97],[.02,-5.0],[.04,-5.04],[.06,-5.08],[.02,-5.12],[.03,-5.18],[.05,-5.24],[.02,-5.3],[.06,-5.36],[.03,-5.42],[.02,-5.5],[.04,-5.58],[.01,-5.66],[.02,-5.78],[.01,-5.85]];
const rightCirrus = [[.08,-3.93],[.08,-4.03],[.07,-4.19],[.05,-4.24],[.05,-4.29],[.06,-4.34],[.03,-4.65],[.02,-4.79],[.1,-4.97],[.03,-5.0],[.04,-4.92],[.05,-5.12],[.01,-5.17],[.04,-5.2],[.06,-5.23],[.08,-5.25],[.1,-5.22],[.02,-5.3],[.05,-5.33],[.07,-5.37],[.03,-5.4],[.01,-5.44],[.05,-5.46],[.08,-5.48],[.03,-5.52],[.06,-5.55],[.01,-5.57],[.04,-5.6],[.07,-5.63],[.02,-5.66],[.05,-5.68],[.03,-5.71],[.01,-5.74],[.06,-5.76],[.04,-5.79],[.02,-5.82],[.05,-5.85],[.07,-5.88],[.03,-5.9],[.01,-5.94],[.04,-5.97],[.05,-6.0],[.06,-6.03],[.02,-5.97],[.01,-6.09],[.01,-6.18],[.03,-5.28],[.09,-5.35],[.06,-5.4],[.02,-5.48]];
const rightAgnTop = [[.07,-2.48],[.13,-2.5],[.19,-2.48],[.02,-2.62],[.17,-2.66],[.14,-2.71]];
const rightStripA220 = [[.03,-2.19],[.01,-2.25],[.02,-2.33],[.03,-2.5],[.22,-2.63],[.01,-2.71],[.01,-2.77],[.09,-2.84],[.12,-2.87],[.01,-2.89],[.02,-2.94],[.02,-3.02],[.12,-3.08],[.02,-3.12],[.01,-3.17],[.03,-3.22],[.08,-3.28],[.02,-3.3],[.04,-3.38],[.1,-3.4],[.01,-3.45],[.03,-3.5],[.06,-3.55],[.14,-3.6],[.02,-3.62],[.17,-3.65],[.01,-3.68],[.04,-3.7],[.22,-3.72],[.08,-3.75],[.27,-3.78],[.12,-3.8],[.02,-3.82],[.18,-3.85],[.05,-3.9],[.29,-3.88],[.01,-3.95],[.22,-3.95],[.13,-3.98],[.05,-4.02],[.18,-4.05],[.02,-4.08],[.12,-4.12],[.08,-4.15],[.01,-4.19],[.16,-4.22],[.06,-4.26],[.13,-4.29],[.02,-4.32],[.19,-4.35],[.09,-4.38],[.15,-4.41],[.04,-4.44],[.11,-4.47],[.17,-4.5],[.07,-4.53],[.01,-4.56],[.14,-4.59],[.09,-4.62],[.18,-4.65],[.03,-4.68],[.12,-4.71],[.08,-4.74],[.15,-4.77],[.02,-4.8],[.1,-4.83],[.13,-4.88],[.06,-4.92],[.11,-4.95],[.03,-5.0],[.09,-5.03],[.01,-5.08],[.06,-5.13],[.1,-5.08],[.02,-5.2],[.06,-5.27],[.01,-5.35],[.05,-5.43],[.02,-5.52],[.06,-5.62],[.01,-5.7]];
const rightHexagons = [[2.80,-3.0],[2.98,-3.26],[3.29,-3.51],[2.98,-3.58],[1.61,-3.42],[2.06,-4.03],[1.47,-4.18],[2.80,-4.19],[3.14,-4.18],[2.98,-4.28],[3.15,-4.39],[3.31,-4.45],[1.41,-4.44],[1.43,-4.52],[1.54,-4.77],[3.28,-3.5],[3.72,-3.26],[3.94,-3.43],[3.79,-3.52],[3.81,-3.57],[4.15,-3.71],[3.85,-3.78],[4.39,-3.82],[3.37,-3.82],[3.79,-3.87],[3.36,-3.90],[3.43,-3.91],[3.92,-3.96],[3.65,-3.98],[5.19,-3.49],[3.92,-4.18],[4.01,-4.20],[4.37,-4.15],[3.70,-4.25],[3.87,-4.24],[4.13,-4.24],[4.13,-4.42],[4.37,-4.42],[4.39,-4.46],[3.31,-4.45],[3.57,-4.73],[3.53,-4.81],[4.10,-4.73],[3.06,-4.97],[3.53,-5.10],[4.18,-5.16]];
const rightReferenceLine = [[0,-4.1],[6,-4.1]];
const rightXTickLabels = ["0","2","4","6"];
const rightYTickLabels = ["−2","−3","−4","−5","−6","−7"];

const NS = 'http://www.w3.org/2000/svg';
const lx = v => 64 + (v - 8) * 93.3;
const ly = v => 477 - (v - 4) * 85.5;
const rx = v => 682 + v * 85.5;
const ry = v => 7 + (-2 - v) * 102.5;

function dots(parent, data, sx, sy, r, color, name) {
  for (const d of data) {
    const el = document.createElementNS(NS, 'circle');
    el.setAttribute('cx', sx(d[0]).toFixed(1));
    el.setAttribute('cy', sy(d[1]).toFixed(1));
    el.setAttribute('r', r);
    el.setAttribute('fill', color);
    
    
    parent.appendChild(el);
  }
}
function hexes(parent, data, sx, sy, r, w, name) {
  for (const d of data) {
    const cx = sx(d[0]), cy = sy(d[1]), h = r * 0.866;
    const pts = [[cx - r, cy], [cx - r / 2, cy - h], [cx + r / 2, cy - h], [cx + r, cy], [cx + r / 2, cy + h], [cx - r / 2, cy + h]];
    const el = document.createElementNS(NS, 'polygon');
    el.setAttribute('points', pts.map(p => p[0].toFixed(1) + ',' + p[1].toFixed(1)).join(' '));
    el.setAttribute('fill', 'none');
    el.setAttribute('stroke', '#111');
    el.setAttribute('stroke-width', w);
    
    
    parent.appendChild(el);
  }
}
function line(parent, x1, y1, x2, y2, color, w, name) {
  const el = document.createElementNS(NS, 'line');
  el.setAttribute('x1', x1.toFixed(1));
  el.setAttribute('y1', y1.toFixed(1));
  el.setAttribute('x2', x2.toFixed(1));
  el.setAttribute('y2', y2.toFixed(1));
  el.setAttribute('stroke', color);
  el.setAttribute('stroke-width', w);
  
  
  parent.appendChild(el);
}
function label(parent, str, x, y, size, anchor, len, name) {
  const el = document.createElementNS(NS, 'text');
  el.setAttribute('x', x.toFixed(1));
  el.setAttribute('y', y.toFixed(1));
  el.setAttribute('font-size', size);
  el.setAttribute('fill', '#222');
  el.setAttribute('text-anchor', anchor);
  if (len) { el.setAttribute('textLength', len); el.setAttribute('lengthAdjust', 'spacingAndGlyphs'); }
  
  
  el.textContent = str;
  parent.appendChild(el);
}

const L = document.getElementById('left-marks');
dots(L, leftCirrus, lx, ly, 2.3, '#000', 'cirrus-point');
dots(L, leftA220Large, lx, ly, 3.7, '#0ff', 'a220-point');
dots(L, leftA220Fill, lx, ly, 3.7, '#0ff', 'a220-point');
dots(L, leftAgnTorus, lx, ly, 2.4, '#00f', 'agn-torus-point');
dots(L, leftA220Small, lx, ly, 2.4, '#0ff', 'a220-point');
dots(L, leftM82Small, lx, ly, 2.3, '#f00', 'm82-point');
dots(L, leftYoungSmall, lx, ly, 2.3, '#f0f', 'young-sb-point');
dots(L, leftYoungLarge, lx, ly, 3.6, '#f0f', 'young-sb-point');
dots(L, leftM82Large, lx, ly, 3.3, '#f00', 'm82-point');
line(L, lx(leftFitLine[0][0]), ly(leftFitLine[0][1]), lx(leftFitLine[1][0]), ly(leftFitLine[1][1]), '#000', 1.3, 'fit-line');
hexes(L, leftHexagons, lx, ly, 7, 1.2, 'highlight-hexagon');

const R = document.getElementById('right-marks');
dots(R, rightA220, rx, ry, 2.4, '#0ff', 'a220-point');
dots(R, rightStripA220, rx, ry, 2.7, '#0ff', 'a220-point');
dots(R, rightYoungSb, rx, ry, 2.4, '#f0f', 'young-sb-point');
dots(R, rightM82, rx, ry, 2.6, '#f00', 'm82-point');
dots(R, rightAgnTorus, rx, ry, 1.9, '#00f', 'agn-torus-point');
dots(R, rightAgnTop, rx, ry, 1.1, '#00f', 'agn-torus-point');
dots(R, rightCirrus, rx, ry, 2.3, '#000', 'cirrus-point');
line(R, rx(rightReferenceLine[0][0]), ry(rightReferenceLine[0][1]), rx(rightReferenceLine[1][0]), ry(rightReferenceLine[1][1]), '#000', 1.3, 'reference-line');
hexes(R, rightHexagons, rx, ry, 5, 1.3, 'highlight-hexagon');

const A = document.getElementById('axes');
const axisColor = '#444';
/* left frame */
line(A, 64, 7, 577, 7, axisColor, 1.5, 'left-frame-top');
line(A, 64, 519, 577, 519, axisColor, 1.5, 'left-frame-bottom');
line(A, 64, 7, 64, 519, axisColor, 1.5, 'left-frame-left');
line(A, 577, 7, 577, 519, axisColor, 1.5, 'left-frame-right');
for (let i = 0; i <= 27; i++) {
  const v = 8 + i * 0.2, len = i % 5 === 0 ? 17 : 9;
  line(A, lx(v), 519, lx(v), 519 - len, axisColor, 1.2, 'left-x-tick');
  line(A, lx(v), 7, lx(v), 7 + len, axisColor, 1.2, 'left-x-tick-top');
}
for (let i = 0; i <= 12; i++) {
  const v = 3.5 + i * 0.5, len = i % 4 === 1 ? 17 : 9;
  line(A, 64, ly(v), 64 + len, ly(v), axisColor, 1.2, 'left-y-tick');
  line(A, 577, ly(v), 577 - len, ly(v), axisColor, 1.2, 'left-y-tick-right');
}
leftXTickLabels.forEach(s => label(A, s, lx(+s), 552, 25, 'middle', s.length === 1 ? 14 : 28, 'left-x-tick-label'));
leftYTickLabels.forEach(s => label(A, s, 48, ly(+s) + 8.5, 25, 'end', 14, 'left-y-tick-label'));
/* right frame */
line(A, 682, 7, 1195, 7, axisColor, 1.5, 'right-frame-top');
line(A, 682, 519.5, 1195, 519.5, axisColor, 1.5, 'right-frame-bottom');
line(A, 682, 7, 682, 519.5, axisColor, 1.5, 'right-frame-left');
line(A, 1195, 7, 1195, 519.5, axisColor, 1.5, 'right-frame-right');
for (let i = 0; i <= 12; i++) {
  const v = i * 0.5, len = i % 4 === 0 ? 14 : 7;
  line(A, rx(v), 519.5, rx(v), 519.5 - len, axisColor, 1.2, 'right-x-tick');
  line(A, rx(v), 7, rx(v), 7 + len, axisColor, 1.2, 'right-x-tick-top');
}
for (let i = 0; i <= 25; i++) {
  const v = -2 - i * 0.2, len = i % 5 === 0 ? 14 : 7;
  line(A, 682, ry(v), 682 + len, ry(v), axisColor, 1.2, 'right-y-tick');
  line(A, 1195, ry(v), 1195 - len, ry(v), axisColor, 1.2, 'right-y-tick-right');
}
rightXTickLabels.forEach(s => label(A, s, rx(+s), 545, 20, 'middle', 11, 'right-x-tick-label'));
rightYTickLabels.forEach(s => label(A, s, 671, ry(-(+s.slice(1))) + 7, 20, 'end', 26, 'right-y-tick-label'));
</script>
</body>
</html>
